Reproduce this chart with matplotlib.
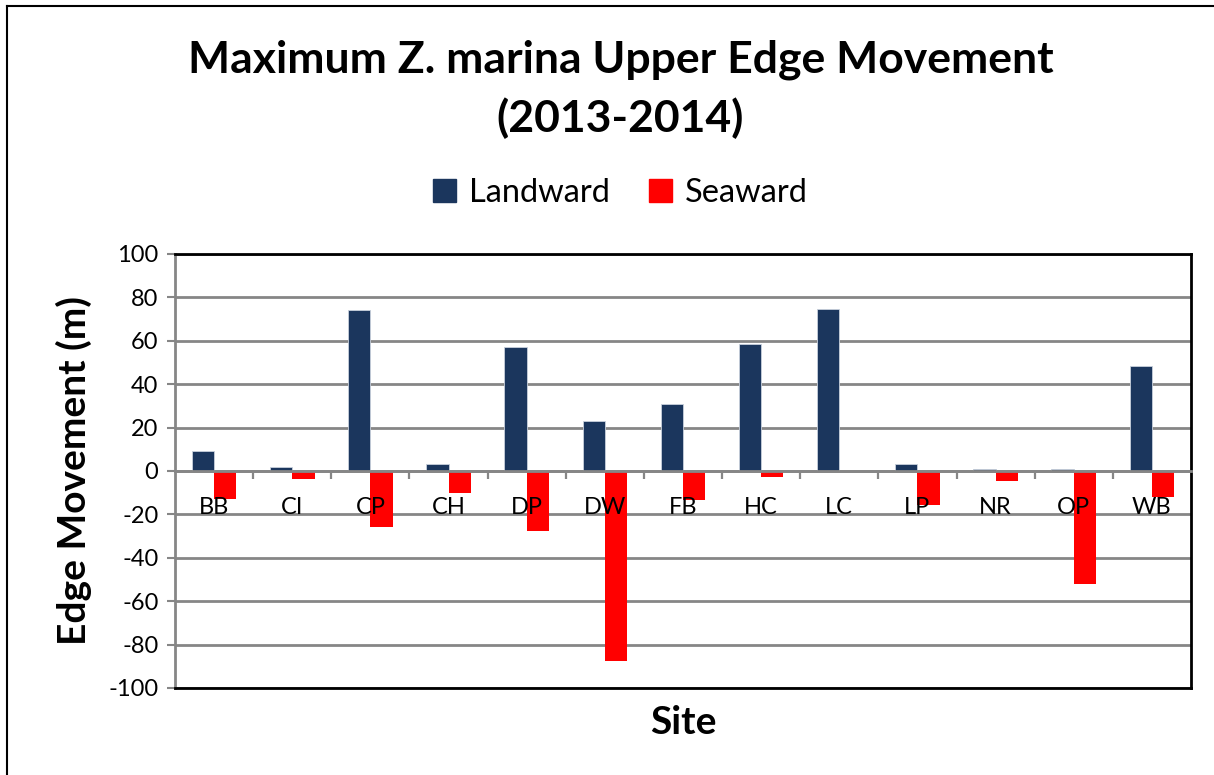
import matplotlib.pyplot as plt
import numpy as np
from matplotlib.lines import Line2D
from matplotlib.patches import Patch

plt.rcParams['font.family'] = ['Lato', 'DejaVu Sans']

# Site codes and maximum edge movement (m), 2013-2014
sites = ['BB', 'CI', 'CP', 'CH', 'DP', 'DW', 'FB', 'HC', 'LC', 'LP', 'NR', 'OP', 'WB']
landward = [9.4, 1.7, 74.0, 3.1, 57.3, 23.0, 30.7, 58.5, 74.7, 3.4, 1.1, 0.9, 48.4]
seaward = [-13.1, -3.8, -26.0, -10.0, -27.5, -87.7, -13.4, -2.6, -0.5, -15.7, -4.8, -51.9, -12.1]
yticks = [-100, -80, -60, -40, -20, 0, 20, 40, 60, 80, 100]

navy = '#1b365d'
red = '#ff0000'
grid_grey = '#868686'

fig = plt.figure(figsize=(12.14, 7.75), dpi=100)
ax = fig.add_axes([0.1442, 0.1123, 0.8368, 0.56])

x = np.arange(len(sites))
w = 0.285
ax.bar(x - w / 2, landward, w, color=navy, edgecolor='#c8d0dc', linewidth=0.6, zorder=3)
ax.bar(x + w / 2, seaward, w, color=red, linewidth=0, zorder=3)

ax.set_xlim(-0.5, len(sites) - 0.5)
ax.set_ylim(-100, 100)
ax.set_yticks(yticks)
ax.set_yticklabels([str(v) for v in yticks], fontsize=17)
ax.tick_params(axis='y', length=6, width=1.5, color=grid_grey, pad=6)
ax.yaxis.grid(True, color=grid_grey, linewidth=2)
ax.set_axisbelow(True)
ax.set_xticks([])

for s in ['top', 'right', 'bottom']:
    ax.spines[s].set_color('black')
    ax.spines[s].set_linewidth(2)
ax.spines['left'].set_color(grid_grey)
ax.spines['left'].set_linewidth(2)

# category axis drawn at zero, labels next to it
sec = ax.secondary_xaxis(0.5)
sec.xaxis.set_ticks_position('bottom')
sec.set_xticks(x)
sec.set_xticklabels(sites, fontsize=17)
sec.tick_params(axis='x', which='both', bottom=True, top=False, labelbottom=True, labeltop=False)
sec.tick_params(axis='x', which='major', length=0, pad=19)
for s in ['top', 'bottom']:
    sec.spines[s].set_color(grid_grey)
    sec.spines[s].set_linewidth(2)
sec.set_zorder(5)

# small tick marks between categories, below the zero line
ax.vlines(x[:-1] + 0.5, -3.6, 0, color=grid_grey, linewidth=1.6, zorder=4)

ax.set_ylabel('Edge Movement (m)', fontsize=28, fontweight='bold', labelpad=12)
ax.set_xlabel('Site', fontsize=28, fontweight='bold', labelpad=12)

fig.text(0.511, 0.923, 'Maximum Z. marina Upper Edge Movement', ha='center', va='center',
         fontsize=32, fontweight='bold')
fig.text(0.511, 0.848, '(2013-2014)', ha='center', va='center', fontsize=32, fontweight='bold')

handles = [Patch(color=navy, label='Landward'), Patch(color=red, label='Seaward')]
fig.legend(handles=handles, loc='center', bbox_to_anchor=(0.511, 0.751), ncol=2,
           frameon=False, fontsize=23.5, handlelength=0.7, handleheight=0.7,
           handletextpad=0.4, columnspacing=1.2)

# outer chart frame (only left and top edges are in view)
fig.add_artist(Line2D([7 / 1214, 7 / 1214], [0, 1 - 6 / 775], color='black', linewidth=1.5))
fig.add_artist(Line2D([7 / 1214, 1], [1 - 6 / 775, 1 - 6 / 775], color='black', linewidth=1.5))

fig.savefig('out.png', dpi=100)
